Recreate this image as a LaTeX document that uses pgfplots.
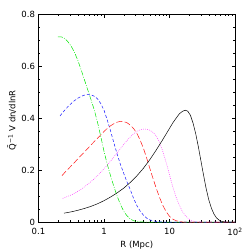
\documentclass[border=0pt]{standalone}
\usepackage{fontspec}
\setmainfont{DejaVu Sans}
\usepackage{pgfplots}
\pgfplotsset{compat=1.18}
\definecolor{cgreen}{RGB}{0,230,0}
\definecolor{cblue}{RGB}{20,20,255}
\definecolor{cred}{RGB}{255,20,20}
\definecolor{cpink}{RGB}{255,60,255}
\begin{document}
\begin{tikzpicture}
\begin{axis}[
  scale only axis, width=196.5pt, height=208pt,
  xmode=log, xmin=0.1, xmax=100, ymin=0, ymax=0.8,
  xtick={0.1,1,10,100}, xticklabels={0.1,1,10,10\textsuperscript{2}},
  ytick={0,0.2,0.4,0.6,0.8}, yticklabels={0,0.2,0.4,0.6,0.8},
  minor y tick num=3,
  tick align=inside, major tick length=3.5pt, minor tick length=2pt,
  tick style={black, line width=0.4pt},
  axis line style={line width=0.5pt},
  ticks=both, xtick pos=both, ytick pos=both,
  /pgf/number format/assume math mode=true,
  every tick label/.style={font=\fontsize{8.5}{10}\selectfont},
  xticklabel style={yshift=-3pt},
  label style={font=\fontsize{8.5}{10}\selectfont},
  xlabel={R (Mpc)},
  ylabel={\=Q\textsuperscript{−1} V dn/dlnR},
  x label style={at={(axis description cs:0.5,-0.1106)}, anchor=center},
  y label style={at={(axis description cs:-0.1349,0.49)}, anchor=center},
  clip=true,
]
\coordinate (sw) at (rel axis cs:0,0);
\coordinate (ne) at (rel axis cs:1,1);
% green dash-dot
\addplot[cgreen, line width=0.5pt, dash pattern=on 5pt off 1.5pt on 0.8pt off 1.5pt] coordinates {
(0.197,0.712)(0.224,0.712)(0.251,0.706)(0.282,0.693)(0.316,0.676)(0.355,0.652)
(0.398,0.622)(0.447,0.586)(0.501,0.548)(0.562,0.510)(0.631,0.472)(0.708,0.432)
(0.794,0.385)(0.891,0.330)(1.0,0.272)(1.122,0.222)(1.259,0.178)(1.413,0.137)
(1.585,0.100)(1.778,0.068)(1.995,0.042)(2.239,0.024)(2.512,0.012)(2.818,0.005)
(3.162,0.002)(3.981,0.0)(100,0.0)};
% blue short dashes
\addplot[cblue, line width=0.5pt, dash pattern=on 3pt off 2pt] coordinates {
(0.213,0.408)(0.251,0.430)(0.282,0.444)(0.316,0.456)(0.355,0.467)(0.398,0.476)
(0.447,0.483)(0.501,0.488)(0.562,0.490)(0.631,0.489)(0.708,0.484)(0.794,0.474)
(0.891,0.456)(1.0,0.430)(1.122,0.392)(1.259,0.350)(1.413,0.305)(1.585,0.262)
(1.778,0.222)(1.995,0.188)(2.239,0.155)(2.512,0.125)(2.818,0.092)(3.162,0.064)
(3.548,0.043)(3.981,0.027)(4.467,0.015)(5.012,0.008)(6.310,0.002)(7.943,0.0)(100,0.0)};
% red long dashes
\addplot[cred, line width=0.5pt, dash pattern=on 6pt off 2.5pt] coordinates {
(0.228,0.178)(0.251,0.190)(0.282,0.203)(0.316,0.216)(0.355,0.229)(0.398,0.243)
(0.447,0.256)(0.501,0.269)(0.562,0.282)(0.631,0.296)(0.708,0.309)(0.794,0.322)
(0.891,0.335)(1.0,0.348)(1.122,0.360)(1.259,0.370)(1.413,0.378)(1.585,0.384)
(1.778,0.387)(1.995,0.386)(2.239,0.382)(2.512,0.373)(2.818,0.360)(3.162,0.342)
(3.548,0.316)(3.981,0.285)(4.467,0.247)(5.012,0.206)(5.623,0.166)(6.310,0.128)
(7.079,0.093)(7.943,0.063)(8.913,0.039)(10,0.022)(11.22,0.011)(12.59,0.005)
(14.13,0.002)(15.85,0.0)(100,0.0)};
% pink dotted
\addplot[cpink, line width=0.5pt, dash pattern=on 0.8pt off 1.2pt] coordinates {
(0.234,0.091)(0.282,0.099)(0.316,0.104)(0.355,0.110)(0.398,0.118)(0.447,0.126)
(0.501,0.135)(0.562,0.145)(0.631,0.155)(0.708,0.166)(0.794,0.178)(0.891,0.191)
(1.0,0.205)(1.122,0.219)(1.259,0.234)(1.413,0.250)(1.585,0.266)(1.778,0.282)
(1.995,0.298)(2.239,0.313)(2.512,0.327)(2.818,0.339)(3.162,0.348)(3.548,0.354)
(3.981,0.357)(4.467,0.357)(5.012,0.353)(5.623,0.344)(6.310,0.330)(7.079,0.305)
(7.943,0.270)(8.913,0.228)(10,0.182)(11.22,0.135)(12.59,0.096)(14.13,0.064)
(15.85,0.039)(17.78,0.022)(19.95,0.011)(22.39,0.004)(25.12,0.001)(31.62,0.0)(100,0.0)};
% black solid
\addplot[black, line width=0.5pt] coordinates {
(0.245,0.034)(0.316,0.039)(0.398,0.045)(0.501,0.052)(0.631,0.060)(0.794,0.070)
(1.0,0.082)(1.259,0.096)(1.585,0.112)(1.995,0.130)(2.512,0.152)(3.162,0.177)
(3.981,0.206)(5.012,0.240)(6.310,0.278)(7.943,0.318)(8.913,0.339)(10,0.360)
(11.22,0.381)(12.59,0.399)(14.13,0.416)(15.85,0.426)(17.38,0.430)(19.05,0.426)
(20.89,0.410)(22.91,0.380)(25.12,0.340)(27.54,0.290)(30.20,0.235)(33.11,0.180)
(36.31,0.128)(39.81,0.085)(43.65,0.053)(47.86,0.030)(52.48,0.015)(57.54,0.007)
(63.10,0.002)(70.79,0.0)(100,0.0)};
\end{axis}
\pgfresetboundingbox
\path ([shift={(-38.5pt,-27pt)}]sw) rectangle ([shift={(14pt,14pt)}]ne);
\end{tikzpicture}
\end{document}
